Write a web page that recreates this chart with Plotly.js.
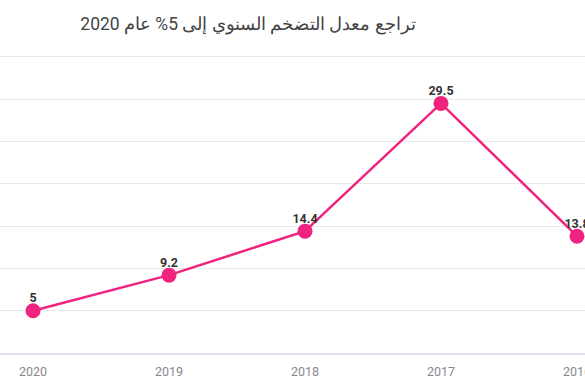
<!DOCTYPE html>
<html><head><meta charset="utf-8">
<script src="https://cdn.plot.ly/plotly-3.0.1.min.js"></script>
<style>html,body{margin:0;padding:0;background:#fff}#c{width:585px;height:390px}</style>
</head><body><div id="c"></div>
<script>
const years = ['2020','2019','2018','2017','2016'];
const inflation = [5, 9.2, 14.4, 29.5, 13.8];
const labels = ['5','9.2','14.4','29.5','13.8'];
const titleText = 'تراجع معدل التضخم السنوي إلى 5% عام 2020';

Plotly.newPlot('c', [{
  x: years, y: inflation, type: 'scatter', mode: 'lines+markers',
  line: {color: '#f0237f', width: 2.5},
  marker: {color: '#f0237f', size: 15},
  cliponaxis: true, hoverinfo: 'none'
}, {
  x: years, y: inflation, type: 'scatter', mode: 'markers+text',
  text: labels, textposition: 'top center',
  textfont: {family: 'Roboto, sans-serif', size: 12.5, color: '#333', weight: 'bold'},
  marker: {color: 'rgba(0,0,0,0)', size: 7},
  cliponaxis: true, hoverinfo: 'none'
}], {
  width: 585, height: 390,
  margin: {l: 0, r: 0, t: 45, b: 37},
  paper_bgcolor: '#fff', plot_bgcolor: '#fff',
  font: {family: 'Roboto, sans-serif'},
  title: {text: titleText, x: 248/585, xanchor: 'center', y: 0.94, yanchor: 'middle',
          font: {family: 'Roboto, sans-serif', size: 17.5, color: '#444'}},
  xaxis: {type: 'category', range: [-0.243, 4.059], showgrid: false, zeroline: false,
          showline: true, linecolor: '#dbe1ec', linewidth: 1.5,
          tickfont: {size: 12.5, color: '#888'}, ticks: '', ticklen: 0, ticklabelstandoff: 6},
  yaxis: {range: [0, 36.4], dtick: 5, showticklabels: false, gridcolor: '#e9e9e9',
          gridwidth: 1, zeroline: false, showline: false},
  showlegend: false
}, {staticPlot: true});
</script></body></html>
